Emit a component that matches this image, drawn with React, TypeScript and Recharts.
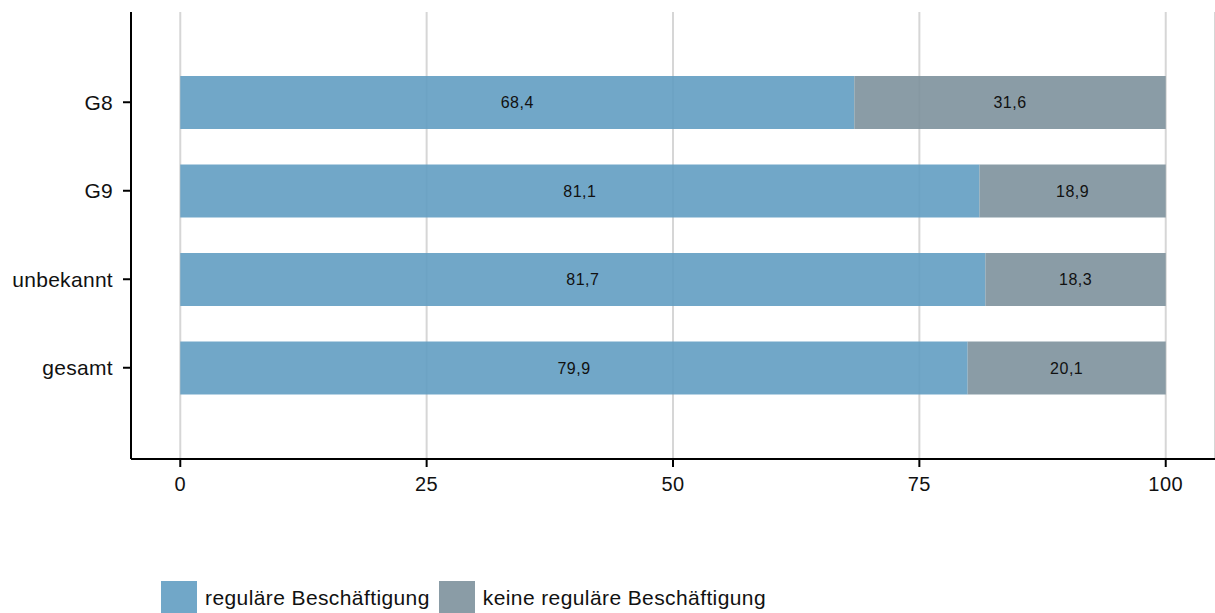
import React from 'react';
import { BarChart, Bar, XAxis, YAxis, CartesianGrid, Legend, LabelList } from 'recharts';

const groups = ['G8', 'G9', 'unbekannt', 'gesamt'];
const regular = [68.4, 81.1, 81.7, 79.9];
const nonRegular = [31.6, 18.9, 18.3, 20.1];
const xTicks = [0, 25, 50, 75, 100];

const seriesNames = {
  regular: 'reguläre Beschäftigung',
  nonRegular: 'keine reguläre Beschäftigung',
};
const colors = {
  regular: '#629dc2',
  nonRegular: '#7d919c',
};

const data = groups.map((g, i) => ({
  group: g,
  regular: regular[i],
  nonRegular: nonRegular[i],
}));

const fmt = (v: any) => Number(v).toFixed(1).replace('.', ',');

const font = 'Liberation Sans, Arial, sans-serif';

const LegendBox = () => (
  <div style={{ display: 'flex', alignItems: 'center', fontFamily: font, fontSize: 21, letterSpacing: 0.4, color: '#111' }}>
    <div style={{ width: 36, height: 34, background: colors.regular, opacity: 0.9, marginRight: 8 }} />
    <span style={{ marginRight: 9 }}>{seriesNames.regular}</span>
    <div style={{ width: 36, height: 34, background: colors.nonRegular, opacity: 0.9, marginRight: 8 }} />
    <span>{seriesNames.nonRegular}</span>
  </div>
);

const App = () => {
  return (
    <div style={{ position: 'absolute', left: 0, top: 0, width: 1215, height: 613, background: '#fff', overflow: 'hidden' }}>
      <BarChart
        width={1215}
        height={613}
        data={data}
        layout="vertical"
        margin={{ top: 12, right: 0, left: 0, bottom: 0 }}
      >
        <CartesianGrid horizontal={false} stroke="#d6d6d6" strokeWidth={2} />
        <XAxis
          type="number"
          domain={[-5, 105]}
          ticks={xTicks}
          allowDataOverflow
          height={154}
          tickSize={8}
          tickMargin={10}
          axisLine={{ stroke: '#000', strokeWidth: 2 }}
          tickLine={{ stroke: '#000', strokeWidth: 2 }}
          tick={{ fill: '#111', fontSize: 20, fontFamily: font, letterSpacing: 0.5 }}
        />
        <YAxis
          type="category"
          dataKey="group"
          width={131}
          padding={{ top: 46, bottom: 47 }}
          tickSize={8}
          tickMargin={10}
          axisLine={{ stroke: '#000', strokeWidth: 2 }}
          tickLine={{ stroke: '#000', strokeWidth: 2 }}
          tick={{ fill: '#111', fontSize: 21, fontFamily: font, letterSpacing: 0.3 }}
        />
        <Legend
          layout="horizontal"
          verticalAlign="middle"
          wrapperStyle={{ top: 581, left: 161, width: 'auto' }}
          content={() => <LegendBox />}
        />
        <Bar dataKey="regular" name={seriesNames.regular} stackId="a" fill={colors.regular} fillOpacity={0.9} barSize={53} isAnimationActive={false}>
          <LabelList dataKey="regular" position="center" formatter={fmt} fill="#111" fontSize={16} fontFamily={font} letterSpacing={0.5} />
        </Bar>
        <Bar dataKey="nonRegular" name={seriesNames.nonRegular} stackId="a" fill={colors.nonRegular} fillOpacity={0.9} barSize={53} isAnimationActive={false}>
          <LabelList dataKey="nonRegular" position="center" formatter={fmt} fill="#111" fontSize={16} fontFamily={font} letterSpacing={0.5} />
        </Bar>
      </BarChart>
    </div>
  );
};

export default App;
